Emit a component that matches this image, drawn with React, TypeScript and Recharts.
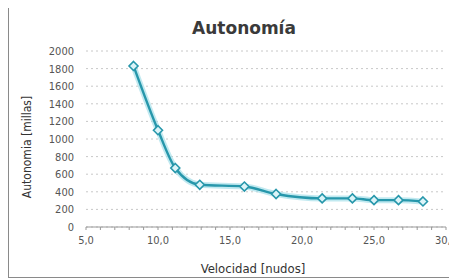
import React from 'react';
import { LineChart, Line, XAxis, YAxis, CartesianGrid } from 'recharts';

const speeds = [8.3, 10.0, 11.2, 12.9, 16.0, 18.2, 21.4, 23.5, 25.0, 26.7, 28.4];
const ranges = [1830, 1100, 670, 480, 460, 375, 325, 325, 305, 305, 290];
const xTicks = [5, 6, 7, 8, 9, 10, 11, 12, 13, 14, 15, 16, 17, 18, 19, 20, 21, 22, 23, 24, 25, 26, 27, 28, 29, 30];
const yTicks = [0, 200, 400, 600, 800, 1000, 1200, 1400, 1600, 1800, 2000];

const data = speeds.map((v, i) => ({ v, a: ranges[i] }));

const font = "'DejaVu Sans', sans-serif";
const teal = '#2797ab';

const fmt = (n: number) => n.toFixed(1).replace('.', ',');

const XTick = (props: any) => {
  const { x, y, payload } = props;
  if (payload.value % 5 !== 0) return null;
  return (
    <text
      x={x}
      y={y}
      dy="0.71em"
      textAnchor="middle"
      fontSize={11}
      fill="#555"
      fontFamily={font}
      style={{ fontStretch: 'condensed' }}
    >
      {fmt(payload.value)}
    </text>
  );
};

const Diamond = (props: any) => {
  const { cx, cy, index } = props;
  if (cx == null || cy == null) return null;
  const r = 4.5;
  return (
    <polygon
      key={index}
      points={`${cx},${cy - r} ${cx + r},${cy} ${cx},${cy + r} ${cx - r},${cy}`}
      fill="#dcf4f8"
      stroke={teal}
      strokeWidth={1.6}
    />
  );
};

export default function App() {
  return (
    <div
      style={{
        position: 'relative',
        width: 447,
        height: 271,
        marginTop: -3,
        border: '1px solid #8a8a8a',
        background: '#fff',
      }}
    >
      <div
        style={{
          position: 'absolute',
          left: 0,
          width: 470,
          top: 12,
          textAlign: 'center',
          fontFamily: 'DejaVu Sans, sans-serif',
          fontWeight: 'bold',
          fontSize: 17,
          color: '#3a3a3a',
        }}
      >
        Autonomía
      </div>
      <div
        style={{
          position: 'absolute',
          left: 18,
          top: 141,
          transform: 'translate(-50%, -50%) rotate(-90deg)',
          whiteSpace: 'nowrap',
          fontFamily: font,
          fontStretch: 'condensed',
          fontSize: 12,
          color: '#333',
        }}
      >
        Autonomia [millas]
      </div>
      <div
        style={{
          position: 'absolute',
          left: 244,
          top: 262,
          transform: 'translate(-50%, -50%)',
          whiteSpace: 'nowrap',
          fontFamily: font,
          fontStretch: 'condensed',
          fontSize: 13,
          color: '#333',
        }}
      >
        Velocidad [nudos]
      </div>
      <LineChart width={447} height={271} data={data} margin={{ top: 45, right: 10, bottom: 20, left: 17 }}>
        <CartesianGrid horizontal vertical={false} stroke="#c8c8c8" strokeDasharray="2 3" />
        <XAxis
          dataKey="v"
          type="number"
          domain={[5, 30]}
          ticks={xTicks}
          interval={0}
          height={30}
          tickSize={3}
          tickMargin={6}
          tick={<XTick />}
          axisLine={{ stroke: '#999' }}
          tickLine={{ stroke: '#999' }}
        />
        <YAxis
          type="number"
          domain={[0, 2000]}
          ticks={yTicks}
          interval={0}
          width={60}
          axisLine={false}
          tickLine={false}
          tickSize={0}
          tickMargin={12}
          tick={{ fontSize: 11, fill: '#555', fontFamily: font, style: { fontStretch: 'condensed' } }}
        />
        <Line
          type="monotone"
          dataKey="a"
          stroke="#a6dfe9"
          strokeWidth={6}
          strokeOpacity={0.7}
          dot={false}
          activeDot={false}
          isAnimationActive={false}
        />
        <Line
          type="monotone"
          dataKey="a"
          stroke={teal}
          strokeWidth={2.4}
          dot={<Diamond />}
          activeDot={false}
          isAnimationActive={false}
        />
      </LineChart>
    </div>
  );
}
